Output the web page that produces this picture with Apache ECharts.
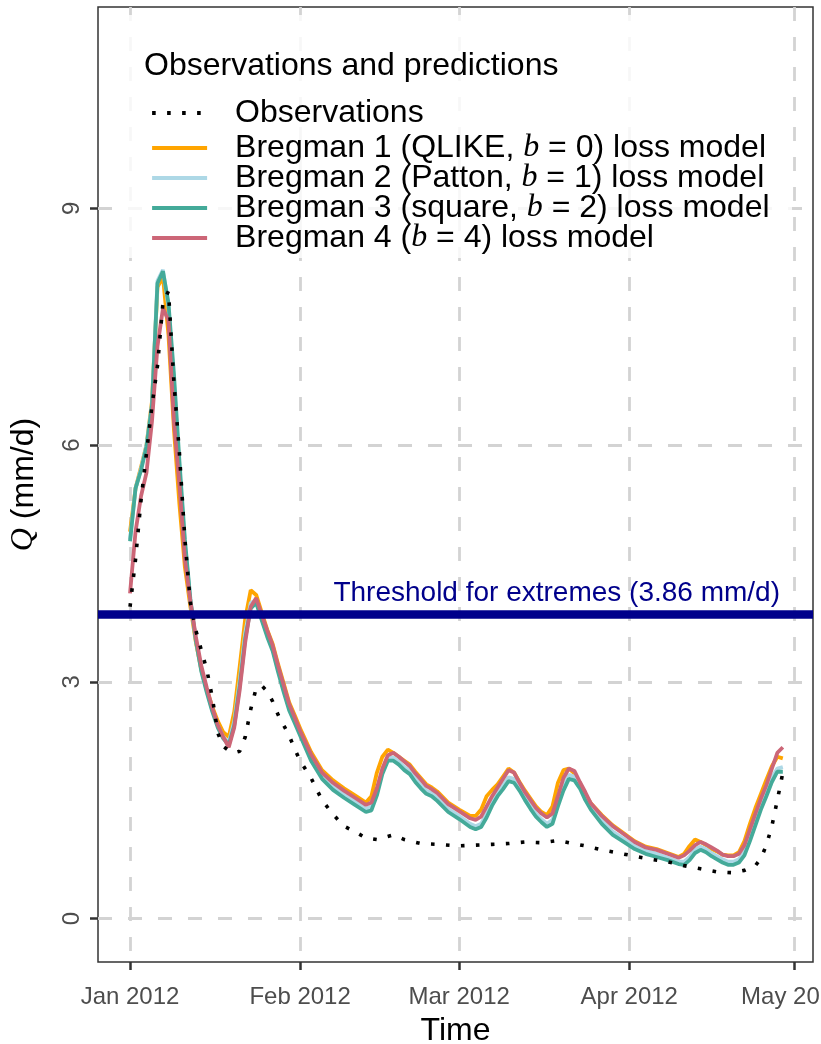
<!DOCTYPE html>
<html>
<head>
<meta charset="utf-8">
<script src="https://cdn.jsdelivr.net/npm/echarts@6/dist/echarts.min.js"></script>
<style>
html, body { margin: 0; padding: 0; background: #fff; }
#chart { width: 821px; height: 1044px; }
</style>
</head>
<body>
<div id="chart"></div>
<script>
// days counted from 1 Jan 2012
const monthTicks = [0, 31, 60, 91, 121]
const monthLabels = ['Jan 2012', 'Feb 2012', 'Mar 2012', 'Apr 2012', 'May 2012']
const qTicks = [0, 3, 6, 9]
const threshold = 3.86

const obsDays = [0, 1, 2, 3, 4, 5, 6, 7, 8, 9, 10, 11, 12, 13, 14, 15, 16, 17, 18, 19, 20, 21, 22, 23, 24, 25, 26, 27, 28, 29, 30, 31,
    33, 35, 37, 39, 41, 43, 45, 46, 48, 50, 53, 56, 60, 63, 66, 69, 72, 75, 78, 80, 83, 86, 89, 92, 95, 98, 101, 104, 107, 110,
    112, 114, 115, 116, 117, 118, 119]
const obsVals = [3.95, 4.55, 5.3, 5.9, 6.5, 7.0, 7.8, 7.95, 6.8, 5.9, 4.8, 4.0, 3.65, 3.4, 3.15, 2.8, 2.35, 2.18, 2.13, 2.1, 2.12, 2.3, 2.65, 2.92, 2.95, 2.88, 2.75, 2.58, 2.45, 2.32, 2.15, 2.0,
    1.78, 1.5, 1.32, 1.17, 1.1, 1.02, 1.0, 1.02, 1.06, 1.0, 0.95, 0.94, 0.92, 0.93, 0.94, 0.95, 0.97, 0.96, 0.99, 0.96, 0.92, 0.87, 0.83, 0.79, 0.75, 0.72, 0.67, 0.63, 0.59, 0.58,
    0.61, 0.67, 0.76, 0.93, 1.17, 1.5, 1.85]

const bDays = [0, 1, 2, 3, 4, 5, 6, 7, 8, 9, 10, 11, 12, 13, 14, 15, 16, 17, 18, 19, 20, 21, 22, 23, 24, 25, 26, 27, 28, 29, 30, 31,
    33, 35, 37, 39, 41, 43,
    44, 45, 46, 47, 48, 49, 50, 51, 52, 53, 54, 55, 56,
    58, 60, 62,
    63, 64, 65, 66, 67, 68, 69, 70, 71, 72, 73, 74, 75, 76, 77, 78, 79, 80, 81, 82, 83, 84,
    86, 88, 90, 92, 94, 96, 98, 100,
    101, 102, 103, 104, 105, 106, 107, 108, 109, 110, 111, 112, 113, 114, 115, 116, 117, 118, 119]

// Bregman 1 (QLIKE)
const b1Vals = [4.9, 5.45, 5.72, 6.0, 6.55, 8.0, 8.13, 7.4, 6.2, 5.25, 4.45, 3.95, 3.5, 3.15, 2.9, 2.68, 2.5, 2.36, 2.3, 2.62, 3.2, 3.8, 4.16, 4.1, 3.88, 3.66, 3.48, 3.22, 2.98, 2.74, 2.58, 2.41,
    2.11, 1.88, 1.75, 1.65, 1.56, 1.47,
    1.55, 1.85, 2.05, 2.14, 2.1, 2.05, 2.0, 1.95, 1.86, 1.78, 1.7, 1.66, 1.61,
    1.47, 1.38, 1.3,
    1.3, 1.38, 1.55, 1.63, 1.7, 1.8, 1.9, 1.85, 1.73, 1.62, 1.52, 1.42, 1.35, 1.31, 1.42, 1.72, 1.88, 1.9, 1.84, 1.7, 1.57, 1.46,
    1.31, 1.18, 1.08, 0.98, 0.91, 0.88, 0.83, 0.78,
    0.82, 0.92, 1.0, 0.97, 0.93, 0.88, 0.85, 0.81, 0.8, 0.8, 0.84, 0.98, 1.2, 1.4, 1.58, 1.76, 1.93, 2.05, 2.03]
// Bregman 2 (Patton)
const b2Vals = [4.8, 5.45, 5.7, 6.0, 6.52, 8.08, 8.22, 7.75, 6.8, 5.7, 4.75, 4.03, 3.53, 3.15, 2.88, 2.64, 2.44, 2.3, 2.23, 2.5, 3.02, 3.62, 4.0, 4.03, 3.81, 3.6, 3.42, 3.15, 2.9, 2.67, 2.51, 2.35,
    2.04, 1.81, 1.67, 1.57, 1.48, 1.39,
    1.42, 1.61, 1.88, 2.04, 2.04, 1.99, 1.92, 1.87, 1.77, 1.69, 1.62, 1.59, 1.53,
    1.39, 1.3, 1.2,
    1.17, 1.2, 1.33, 1.48, 1.6, 1.69, 1.79, 1.77, 1.66, 1.54, 1.43, 1.33, 1.26, 1.2, 1.25, 1.47, 1.67, 1.82, 1.8, 1.69, 1.54, 1.42,
    1.24, 1.1, 1.01, 0.92, 0.86, 0.82, 0.77, 0.72,
    0.72, 0.78, 0.88, 0.91, 0.88, 0.83, 0.79, 0.75, 0.72, 0.72, 0.75, 0.85, 1.03, 1.23, 1.43, 1.6, 1.78, 1.9, 1.92]
// Bregman 3 (square)
const b3Vals = [4.78, 5.45, 5.68, 5.98, 6.5, 8.05, 8.2, 7.8, 6.9, 5.8, 4.8, 4.05, 3.52, 3.13, 2.86, 2.62, 2.42, 2.28, 2.2, 2.45, 2.95, 3.55, 3.93, 4.0, 3.78, 3.57, 3.39, 3.12, 2.87, 2.64, 2.48, 2.32,
    2.0, 1.77, 1.63, 1.53, 1.44, 1.35,
    1.37, 1.56, 1.83, 2.0, 2.0, 1.95, 1.88, 1.83, 1.73, 1.65, 1.58, 1.55, 1.49,
    1.35, 1.26, 1.16,
    1.13, 1.16, 1.28, 1.43, 1.55, 1.64, 1.74, 1.72, 1.62, 1.5, 1.39, 1.29, 1.22, 1.16, 1.2, 1.42, 1.62, 1.77, 1.75, 1.65, 1.5, 1.38,
    1.2, 1.06, 0.97, 0.88, 0.82, 0.78, 0.74, 0.69,
    0.68, 0.74, 0.83, 0.87, 0.84, 0.79, 0.75, 0.71, 0.68, 0.68, 0.71, 0.8, 0.98, 1.18, 1.38, 1.55, 1.73, 1.86, 1.86]
// Bregman 4 (b = 4)
const b4Vals = [4.12, 4.9, 5.35, 5.65, 6.3, 7.25, 7.73, 7.58, 6.3, 5.5, 4.55, 4.02, 3.57, 3.2, 2.92, 2.67, 2.45, 2.3, 2.17, 2.42, 2.9, 3.5, 3.95, 4.06, 3.85, 3.65, 3.46, 3.2, 2.96, 2.72, 2.55, 2.38,
    2.08, 1.85, 1.72, 1.62, 1.53, 1.44,
    1.47, 1.65, 1.9, 2.07, 2.1, 2.05, 1.99, 1.93, 1.84, 1.76, 1.68, 1.64, 1.59,
    1.45, 1.36, 1.27,
    1.25, 1.29, 1.42, 1.55, 1.66, 1.77, 1.88, 1.85, 1.72, 1.6, 1.5, 1.4, 1.33, 1.28, 1.33, 1.55, 1.78, 1.9, 1.87, 1.73, 1.6, 1.46,
    1.3, 1.17, 1.07, 0.97, 0.9, 0.87, 0.82, 0.77,
    0.8, 0.86, 0.93, 0.97, 0.94, 0.9, 0.86, 0.81, 0.79, 0.79, 0.82, 0.93, 1.13, 1.33, 1.52, 1.69, 1.9, 2.1, 2.17]

const zip = (xs, ys) => xs.map((x, i) => [x, ys[i]])

const legendText = {
    'Observations': '{t|Observations}',
    'Bregman 1': '{t|Bregman 1 (QLIKE, }{b|b}{t| = 0) loss model}',
    'Bregman 2': '{t|Bregman 2 (Patton, }{b|b}{t| = 1) loss model}',
    'Bregman 3': '{t|Bregman 3 (square, }{b|b}{t| = 2) loss model}',
    'Bregman 4': '{t|Bregman 4 (}{b|b}{t| = 4) loss model}'
}
const legendStyle = {
    color: '#000',
    fontSize: 32,
    lineHeight: 30,
    fontFamily: 'Liberation Sans',
    padding: [0, 0, 0, 23],
    rich: {
        t: { fontSize: 32, lineHeight: 30, fontFamily: 'Liberation Sans', color: '#000' },
        b: { fontSize: 32, lineHeight: 30, fontFamily: 'Liberation Serif', fontStyle: 'italic', color: '#000' }
    }
}
const legendBase = {
    orient: 'vertical',
    left: 150,
    padding: 0,
    itemGap: -2,
    itemWidth: 55,
    itemHeight: 14,
    selectedMode: false,
    itemStyle: { opacity: 0 },
    lineStyle: { width: 4.2 },
    formatter: name => legendText[name],
    textStyle: legendStyle
}

const bLine = (name, color, vals) => ({
    name: name,
    type: 'line',
    data: zip(bDays, vals),
    symbol: 'none',
    z: 3,
    lineStyle: { color: color, width: 3.8 },
    itemStyle: { color: color }
})

let myChart = echarts.init(document.getElementById('chart'))
myChart.setOption({
    animation: false,
    title: {
        text: 'Observations and predictions',
        left: 144,
        top: 50,
        padding: 0,
        textStyle: { fontSize: 32, fontWeight: 'normal', color: '#000', fontFamily: 'Liberation Sans' }
    },
    graphic: [{
        type: 'rect',
        z: 1,
        shape: { x: 112, y: 15, width: 680, height: 243 },
        style: { fill: 'rgba(255,255,255,0.82)' },
        silent: true
    }],
    legend: [
        Object.assign({}, legendBase, { data: ['Observations'], top: 97 }),
        Object.assign({}, legendBase, { data: ['Bregman 1', 'Bregman 2', 'Bregman 3', 'Bregman 4'], top: 132 })
    ],
    grid: {
        left: 98,
        right: 8,
        top: 7,
        bottom: 82,
        outerBoundsMode: 'none',
        containLabel: false,
        show: true,
        borderColor: '#333',
        borderWidth: 1.5,
        backgroundColor: '#fff'
    },
    xAxis: {
        type: 'value',
        min: -5.84,
        max: 124.5,
        name: 'Time',
        nameLocation: 'middle',
        nameGap: 53,
        nameTextStyle: { fontSize: 32, color: '#000', fontFamily: 'Liberation Sans' },
        axisLine: { show: false, onZero: false },
        axisTick: { show: true, customValues: monthTicks, length: 8, lineStyle: { color: '#333', width: 2.5 } },
        axisLabel: {
            customValues: monthTicks,
            margin: 23,
            fontSize: 24,
            color: '#4d4d4d',
            fontFamily: 'Liberation Sans',
            formatter: v => monthLabels[monthTicks.indexOf(v)]
        },
        splitLine: { show: true, lineStyle: { color: '#d3d3d3', width: 2.8, type: [14, 16] } }
    },
    yAxis: {
        type: 'value',
        min: -0.551,
        max: 11.55,
        name: '{q|Q} (mm/d)',
        nameLocation: 'middle',
        nameRotate: 90,
        nameGap: 58,
        nameTextStyle: {
            fontSize: 32, color: '#000', fontFamily: 'Liberation Sans',
            rich: { q: { fontSize: 32, fontFamily: 'Liberation Serif', fontStyle: 'italic', color: '#000' } }
        },
        axisLine: { show: false, onZero: false },
        axisTick: { show: true, customValues: qTicks, length: 8, lineStyle: { color: '#333', width: 2.5 } },
        axisLabel: {
            customValues: qTicks,
            rotate: 90,
            margin: 14,
            fontSize: 24,
            color: '#4d4d4d',
            fontFamily: 'Liberation Sans'
        },
        splitLine: { show: true, lineStyle: { color: '#d3d3d3', width: 2.8, type: [14, 16] } }
    },
    series: [
        {
            name: 'threshold',
            type: 'line',
            data: [],
            z: 2,
            markLine: {
                silent: true,
                symbol: 'none',
                lineStyle: { color: '#00008b', width: 8.5, type: 'solid' },
                label: {
                    position: 'insideEndTop',
                    formatter: 'Threshold for extremes (3.86 mm/d)',
                    color: '#00008b',
                    fontSize: 28,
                    fontFamily: 'Liberation Sans',
                    distance: [33, 7]
                },
                data: [{ yAxis: threshold }]
            }
        },
        bLine('Bregman 1', '#ffa500', b1Vals),
        bLine('Bregman 2', '#add8e6', b2Vals),
        bLine('Bregman 3', '#44aa99', b3Vals),
        bLine('Bregman 4', '#cc6677', b4Vals),
        {
            name: 'Observations',
            type: 'line',
            data: zip(obsDays, obsVals),
            symbol: 'none',
            z: 4,
            lineStyle: { color: '#000', width: 3.6, type: [3.6, 11.4] },
            itemStyle: { color: '#000' }
        }
    ]
})
</script>
</body>
</html>
